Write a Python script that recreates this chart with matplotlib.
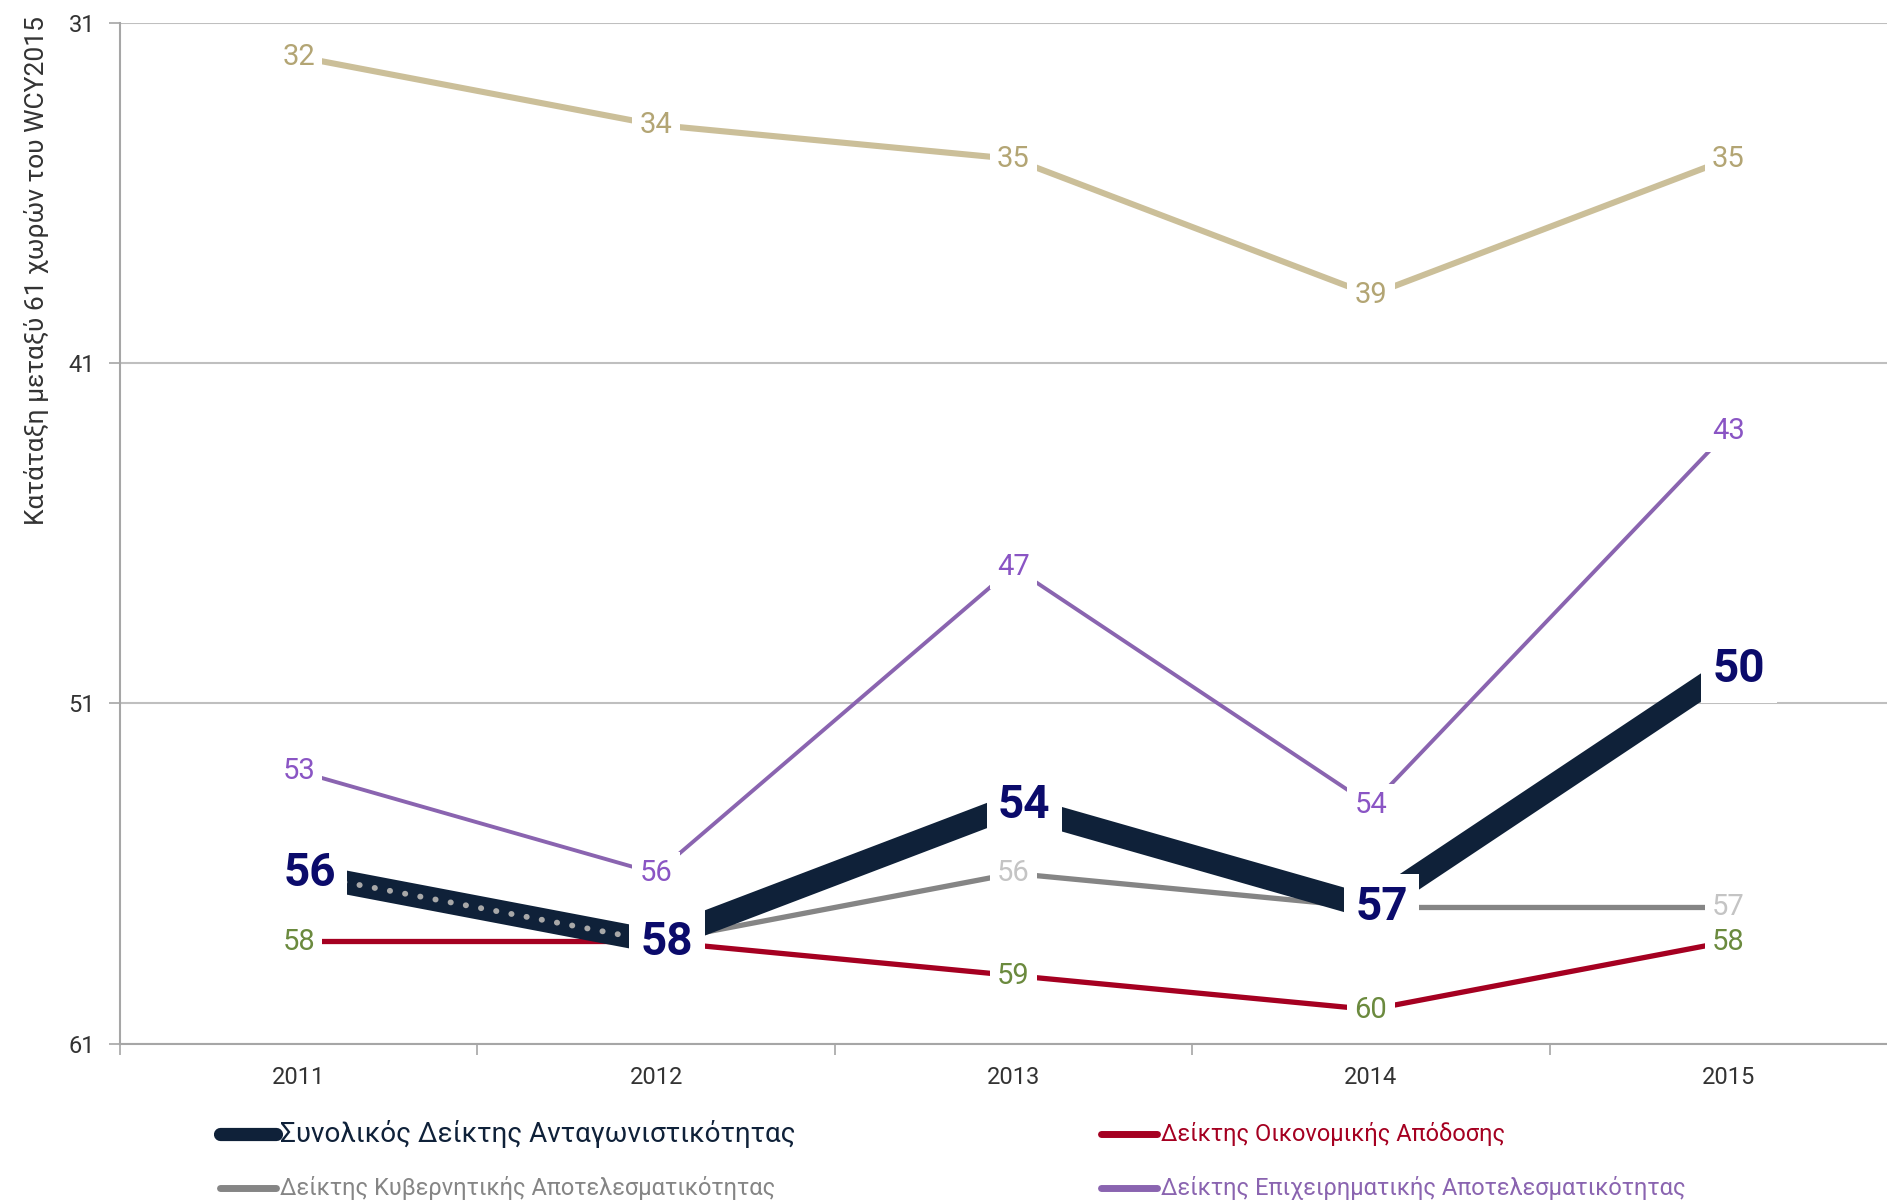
import matplotlib
matplotlib.use("Agg")
import matplotlib.pyplot as plt
from matplotlib.lines import Line2D

plt.rcParams["font.family"] = ["Roboto", "DejaVu Sans"]

# Data
years = ["2011", "2012", "2013", "2014", "2015"]
overall = [56, 58, 54, 57, 50]        # Συνολικός Δείκτης Ανταγωνιστικότητας
economic = [58, 58, 59, 60, 58]       # Δείκτης Οικονομικής Απόδοσης
government = [56, 58, 56, 57, 57]     # Δείκτης Κυβερνητικής Αποτελεσματικότητας
business = [53, 56, 47, 54, 43]       # Δείκτης Επιχειρηματικής Αποτελεσματικότητας
infrastructure = [32, 34, 35, 39, 35]  # (legend entry cut off in the source)

yticks = [31, 41, 51, 61]
ylabel = "Κατάταξη μεταξύ 61 χωρών του WCY2015"
names = ["Συνολικός Δείκτης Ανταγωνιστικότητας",
         "Δείκτης Οικονομικής Απόδοσης",
         "Δείκτης Κυβερνητικής Αποτελεσματικότητας",
         "Δείκτης Επιχειρηματικής Αποτελεσματικότητας"]

# which labels are shown for each series (others hidden under the main line)
show_econ = [True, False, True, True, True]
show_gov = [False, False, True, False, True]

navy = "#0f2139"
red = "#a50021"
grey = "#858585"
purple = "#8a64b0"
gold = "#cbbf99"

fig = plt.figure(figsize=(18.87, 12.02), dpi=100)
W, H = 1887, 1202
ax = fig.add_axes((120 / W, 0.1318, (1907 - 120) / W, 0.981 - 0.1318))

x = list(range(len(years)))

ax.plot(x, infrastructure, color=gold, lw=4.4, solid_capstyle="butt", zorder=2)
ax.plot(x, business, color=purple, lw=2.8, solid_capstyle="butt", zorder=3)
ax.plot(x, economic, color=red, lw=3.8, solid_capstyle="butt", zorder=4)
ax.plot(x[1:], government[1:], color=grey, lw=3.8, solid_capstyle="butt", zorder=5)
ax.plot(x, overall, color=navy, lw=17, solid_capstyle="butt", zorder=6)
# dotted segment of the government index where it runs along the main line
ax.plot(x[:2], government[:2], color="#a8a8a8", lw=4.2, ls=(0, (0.05, 2.6)),
        dash_capstyle="round", zorder=7)

box = dict(boxstyle="square,pad=0.25", fc="white", ec="none")


def labels(vals, color, size, shown=None, dx=0.0, weight="normal"):
    for i, v in enumerate(vals):
        if shown is not None and not shown[i]:
            continue
        ax.text(i + dx, v, str(v), color=color, fontsize=size, weight=weight,
                ha="center", va="center", bbox=box, zorder=8)


labels(infrastructure, "#b3a574", 21)
labels(business, "#8a55c4", 21)
labels(economic, "#6b8a3e", 21, show_econ)
labels(government, "#c4c4c4", 21, show_gov)
labels(overall, "#0b0b6b", 33, dx=0.03, weight="bold")

ax.set_xlim(-0.5, 4.5)
ax.set_ylim(61, 31)
ax.set_yticks(yticks)
ax.set_xticks(x)
ax.set_xticklabels(years)
ax.set_xticks([i - 0.5 for i in range(len(years) + 1)], minor=True)
ax.tick_params(axis="x", which="major", length=0, pad=16, labelsize=17,
               labelcolor="#333333")
ax.tick_params(axis="x", which="minor", length=8, color="#a6a6a6", width=1.2)
ax.tick_params(axis="y", length=8, color="#a6a6a6", width=1.2, labelsize=17,
               labelcolor="#333333", pad=10)

for s in ["top", "right"]:
    ax.spines[s].set_visible(False)
for s in ["left", "bottom"]:
    ax.spines[s].set_color("#a6a6a6")
    ax.spines[s].set_linewidth(1.5)
ax.grid(axis="y", color="#bfbfbf", lw=1.5, zorder=0)
ax.set_axisbelow(True)

fig.text(36 / W, 0.775, ylabel, rotation=90, ha="center", va="center",
         fontsize=19, color="#333333")

# legend drawn along the bottom edge
leg = [(220, 1134, navy, 9.5, names[0], navy, 20),
       (1101, 1134, red, 5, names[1], red, 17),
       (220, 1188, grey, 5, names[2], grey, 17),
       (1101, 1188, purple, 5, names[3], purple, 17)]
for lx, ly, lc, lw, txt, tc, fs in leg:
    fy = 1 - ly / H
    fig.add_artist(Line2D([lx / W, (lx + 56) / W], [fy, fy], color=lc, lw=lw,
                          solid_capstyle="round"))
    fig.text((lx + 60) / W, fy, txt, color=tc, fontsize=fs, ha="left",
             va="center")

fig.savefig("out.png", dpi=100)
